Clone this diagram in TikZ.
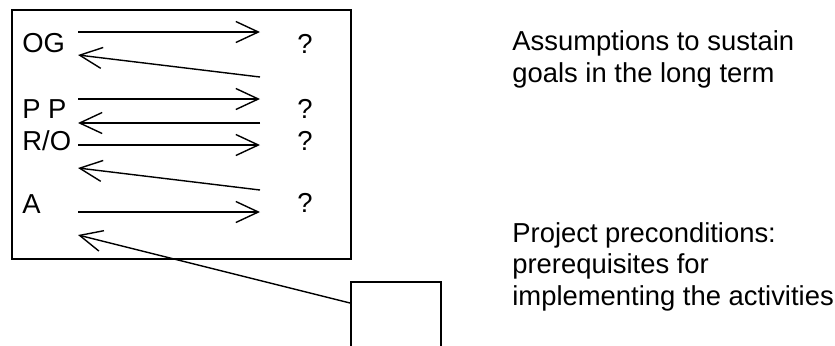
\documentclass[tikz,border=0pt]{standalone}
\usepackage{fontspec}
\setmainfont{Liberation Sans}
\usetikzlibrary{arrows.meta,positioning}

\begin{document}
\begin{tikzpicture}[
    x=0.02cm, y=-0.02cm,
    font=\fontsize{15.6}{17.8}\selectfont,
    level/.style={anchor=base west, inner sep=0pt},
    query/.style={anchor=base, inner sep=0pt},
    note/.style={anchor=base west, inner sep=0pt, align=left},
    frame/.style={draw, line width=1pt, anchor=north west},
    line/.style={draw, line width=0.8pt, -{Straight Barb[length=0.45cm, width=0.42cm]}}
    ]
    \useasboundingbox (0,0) rectangle (835,345);
    \clip (0,0) rectangle (835,345);

    % logframe column and the precondition box below it
    \node [frame, minimum width=6.78cm, minimum height=4.98cm] (frame) at (11,9) {};
    \node [frame, minimum width=1.8cm, minimum height=2cm] (pre) at (350,281) {};

    \node [level] (og) at (22,52) {OG};
    \node [level] (pp) at (22,118) {P P};
    \node [level] (ro) at (22,150) {R/O};
    \node [level] (act) at (22,213) {A};

    \node [query] (q1) at (305,53) {?};
    \node [query] (q2) at (305,118) {?};
    \node [query] (q3) at (305,150) {?};
    \node [query] (q4) at (305,212) {?};

    % base of a multi-line note is its last line
    \node [note] (sustain) at (512,82) {Assumptions to sustain\\goals in the long term};
    \node [note] (precond) at (512,305) {Project preconditions:\\prerequisites for\\implementing the activities};

    % arrows out to the assumptions
    \foreach \y [count=\i] in {32,99,145,212} {
        \coordinate (out\i) at (78,\y);
        \coordinate (ask\i) at (260,\y);
        \path [line] (out\i) -- (ask\i);
    }

    % arrows back to the level above
    \coordinate (back1) at (260,77);
    \coordinate (back2) at (260,123);
    \coordinate (back3) at (260,190);
    \coordinate (up1) at (78,55);
    \coordinate (up2) at (78,123);
    \coordinate (up3) at (78,168);
    \coordinate (up4) at (78,235);
    \coordinate (prein) at ([yshift=-0.44cm]pre.north west);

    \path [line] (back1) -- (up1);
    \path [line] (back2) -- (up2);
    \path [line] (back3) -- (up3);
    \path [line] (prein) -- (up4);
\end{tikzpicture}
\end{document}
